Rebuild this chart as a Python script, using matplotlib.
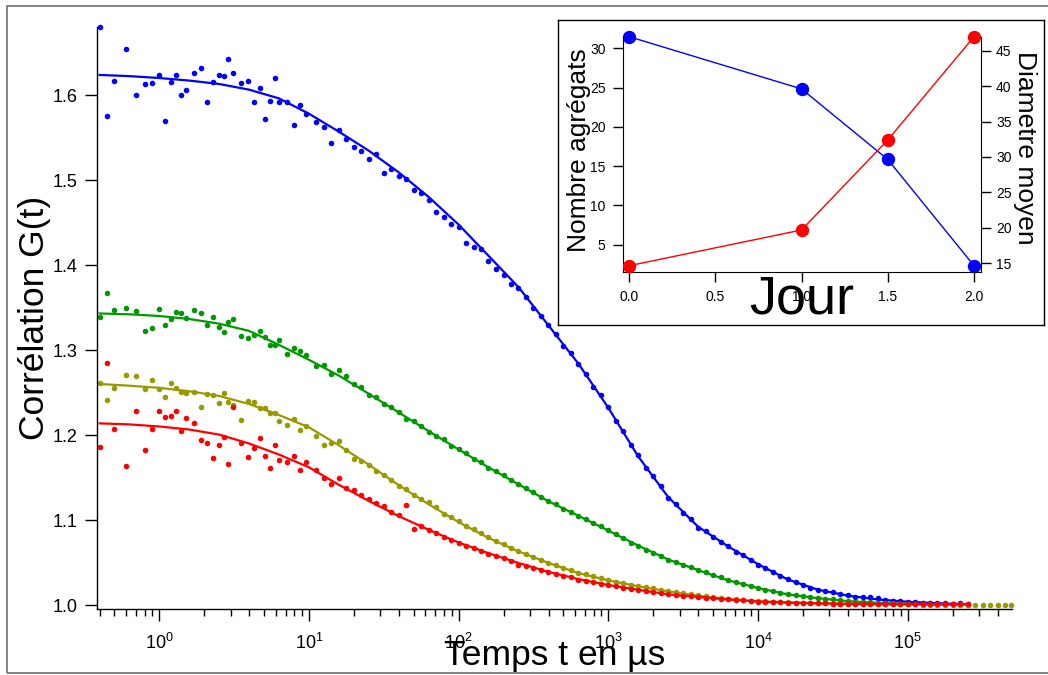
"""Fonctions de correlation G(t) (4 echantillons) avec ajustements, et
encart : nombre d'agregats / diametre moyen en fonction du jour."""

import matplotlib

matplotlib.use("Agg")
import matplotlib.pyplot as plt
from matplotlib.patches import Rectangle
from matplotlib.ticker import (FixedLocator, FormatStrFormatter, LogFormatterSciNotation,
                               MultipleLocator, NullFormatter)

# --- donnees --------------------------------------------------------------
LAG_US = [
    0.4, 0.45, 0.5, 0.6, 0.7, 0.8, 0.9,
    1.0, 1.1, 1.2, 1.3, 1.4, 1.5, 1.7, 1.9, 2.1, 2.3, 2.5, 2.7, 2.9, 3.1,
    3.5, 3.9, 4.3, 4.7, 5.1, 5.5, 5.9, 6.3, 7.1, 7.9, 8.7, 9.5,
    11.2, 12.6, 14.1, 15.8, 17.8, 20.0, 22.4, 25.1, 28.2, 31.6, 35.5, 39.8, 44.7, 50.1,
    56.2, 63.1, 70.8, 79.4, 89.1,
    100, 112, 126, 141, 158, 178, 200, 224, 251, 282, 316, 355, 398, 447, 501, 562,
    631, 708, 794, 891,
    1000, 1120, 1260, 1410, 1580, 1780, 2000, 2240, 2510, 2820, 3160, 3550, 3980, 4470,
    5010, 5620, 6310, 7080, 7940, 8910,
    1.0e4, 1.12e4, 1.26e4, 1.41e4, 1.58e4, 1.78e4, 2.0e4, 2.24e4, 2.51e4, 2.82e4, 3.16e4,
    3.55e4, 3.98e4, 4.47e4, 5.01e4, 5.62e4, 6.31e4, 7.08e4, 7.94e4, 8.91e4,
    1.0e5, 1.12e5, 1.26e5, 1.41e5, 1.58e5, 1.78e5, 2.0e5, 2.24e5, 2.51e5,
]
LAG_US_TAIL = [2.82e5, 3.16e5, 3.55e5, 3.98e5, 4.47e5, 4.9e5]  # seulement la serie olive

G_BLUE = [
    1.680, 1.5757, 1.6165, 1.6537, 1.600, 1.6133, 1.6145,
    1.624, 1.569, 1.615, 1.6235, 1.600, 1.6059, 1.6259, 1.6314, 1.5914, 1.6157, 1.6231,
    1.6227, 1.642, 1.6259,
    1.614, 1.616, 1.592, 1.608, 1.572, 1.5933, 1.6196, 1.5914, 1.592, 1.5647, 1.588, 1.578,
    1.5686, 1.5624, 1.5430, 1.5585, 1.5478, 1.5390, 1.5345, 1.5243, 1.5306, 1.5080, 1.5126,
    1.5047, 1.5008, 1.4882, 1.4843, 1.4765, 1.4627, 1.4568, 1.4482,
    1.4443, 1.4262, 1.4216, 1.4185, 1.4045, 1.3950, 1.3880, 1.3776, 1.3730, 1.3620, 1.3490,
    1.3400, 1.3290, 1.3190, 1.3050, 1.2965, 1.2830, 1.2720, 1.2570, 1.2465,
    1.2330, 1.2170, 1.2045, 1.1880, 1.1760, 1.1615, 1.1520, 1.1395, 1.1260, 1.1190, 1.1080,
    1.1015, 1.0905, 1.0870, 1.0795, 1.0740, 1.0690, 1.0625, 1.0590, 1.0525,
    1.0470, 1.0440, 1.0385, 1.0340, 1.0305, 1.0265, 1.0240, 1.0205, 1.0175, 1.0160, 1.0150,
    1.0125, 1.0112, 1.0095, 1.0100, 1.0092, 1.0078, 1.0060, 1.0050, 1.0042,
    1.0035, 1.0030, 1.0025, 1.0025, 1.0018, 1.0022, 1.0015, 1.0020, 1.0012,
]
G_GREEN = [
    1.339, 1.3667, 1.347, 1.349, 1.3463, 1.3227, 1.326,
    1.3482, 1.330, 1.337, 1.3443, 1.344, 1.338, 1.347, 1.344, 1.330, 1.339, 1.3267,
    1.3216, 1.3333, 1.336,
    1.3165, 1.3137, 1.3176, 1.3224, 1.315, 1.306, 1.306, 1.3118, 1.2953, 1.302, 1.2992, 1.294,
    1.2812, 1.2824, 1.2714, 1.2765, 1.2690, 1.2600, 1.2560, 1.2470, 1.2445, 1.2365, 1.2330,
    1.2265, 1.2190, 1.2160, 1.2105, 1.2040, 1.1985, 1.1950, 1.1875,
    1.1835, 1.1790, 1.1720, 1.1680, 1.1615, 1.1575, 1.1525, 1.1465, 1.1425, 1.1375, 1.1330,
    1.1265, 1.1225, 1.1185, 1.1130, 1.1095, 1.1045, 1.1010, 1.0960, 1.0925,
    1.0880, 1.0835, 1.0790, 1.0735, 1.0695, 1.0650, 1.0610, 1.0578, 1.0530, 1.0505, 1.0470,
    1.0445, 1.0410, 1.0385, 1.0350, 1.0325, 1.0295, 1.0265, 1.0250, 1.0220,
    1.0200, 1.0180, 1.0165, 1.0140, 1.0128, 1.0112, 1.0105, 1.0090, 1.0082, 1.0070, 1.0065,
    1.0055, 1.0048, 1.0040, 1.0035, 1.0030, 1.0025, 1.0022, 1.0020, 1.0016,
    1.0015, 1.0012, 1.0012, 1.0010, 1.0008, 1.0008, 1.0006, 1.0006, 1.0005,
]
G_OLIVE = [
    1.2608, 1.2412, 1.255, 1.2706, 1.2698, 1.2537, 1.2647,
    1.2541, 1.245, 1.2615, 1.255, 1.251, 1.249, 1.251, 1.2326, 1.2482, 1.247, 1.238,
    1.249, 1.2392, 1.2353,
    1.2176, 1.2404, 1.2384, 1.2322, 1.2314, 1.2255, 1.2255, 1.2168, 1.2118, 1.2184, 1.2059, 1.2106,
    1.1988, 1.1880, 1.1902, 1.1933, 1.1824, 1.1714, 1.1700, 1.1650, 1.1580, 1.1530, 1.1475,
    1.1400, 1.1370, 1.1300, 1.1250, 1.1210, 1.1150, 1.1075, 1.1035,
    1.0985, 1.0925, 1.0890, 1.0845, 1.0800, 1.0755, 1.0715, 1.0670, 1.0635, 1.0600, 1.0565,
    1.0530, 1.0500, 1.0470, 1.0440, 1.0410, 1.0380, 1.0360, 1.0340, 1.0315,
    1.0295, 1.0275, 1.0260, 1.0240, 1.0225, 1.0210, 1.0195, 1.0178, 1.0165, 1.0150, 1.0138,
    1.0125, 1.0115, 1.0102, 1.0092, 1.0082, 1.0072, 1.0066, 1.0060, 1.0052,
    1.0047, 1.0042, 1.0038, 1.0034, 1.0030, 1.0028, 1.0025, 1.0022, 1.0020, 1.0018, 1.0016,
    1.0015, 1.0013, 1.0012, 1.0012, 1.0010, 1.0010, 1.0009, 1.0008, 1.0008,
    1.0006, 1.0006, 1.0005, 1.0005, 1.0004, 1.0004, 1.0003, 1.0003, 1.0003,
    1.0002, 1.0002, 1.0002, 1.0002, 1.0001, 1.0001,
]
G_RED = [
    1.1855, 1.285, 1.2067, 1.1635, 1.2282, 1.1824, 1.2067,
    1.2282, 1.2216, 1.2224, 1.2282, 1.205, 1.2204, 1.2145, 1.1941, 1.1902, 1.1726, 1.1882,
    1.1973, 1.1659, 1.2326,
    1.1902, 1.1745, 1.1843, 1.1969, 1.1753, 1.1615, 1.1882, 1.1706, 1.1686, 1.1753, 1.1588, 1.1686,
    1.1590, 1.1500, 1.1420, 1.1500, 1.1375, 1.1350, 1.1300, 1.1250, 1.1200, 1.1165, 1.1100,
    1.1060, 1.1180, 1.0900, 1.0935, 1.0880, 1.0850, 1.0805, 1.0765,
    1.0735, 1.0700, 1.0665, 1.0640, 1.0605, 1.0575, 1.0550, 1.0515, 1.0470, 1.0455, 1.0435,
    1.0410, 1.0385, 1.0365, 1.0345, 1.0325, 1.0300, 1.0285, 1.0268, 1.0250,
    1.0232, 1.0220, 1.0205, 1.0192, 1.0178, 1.0165, 1.0150, 1.0138, 1.0125, 1.0118, 1.0110,
    1.0103, 1.0095, 1.0088, 1.0080, 1.0073, 1.0066, 1.0060, 1.0053, 1.0046,
    1.0040, 1.0037, 1.0034, 1.0031, 1.0028, 1.0026, 1.0024, 1.0022, 1.0020, 1.0018, 1.0017,
    1.0015, 1.0013, 1.0012, 1.0011, 1.0010, 1.0010, 1.0010, 1.0010, 1.0010,
    1.0009, 1.0010, 1.0011, 1.0009, 1.0010, 1.0010, 1.0009, 1.0010, 1.0010,
]

# courbes d'ajustement, lues tous les 0.2 decade
FIT_T = [
    0.4, 0.63, 1.0, 1.58, 2.51, 3.98, 6.31, 10, 15.8, 25.1, 39.8, 63.1, 100, 158, 251,
    398, 631, 1000, 1580, 2510, 3980, 6310, 1.0e4, 1.58e4, 2.51e4, 3.98e4, 6.31e4,
    1.0e5, 1.58e5, 2.51e5,
]
FIT_BLUE = [
    1.6236, 1.6222, 1.6200, 1.6170, 1.6130, 1.6063, 1.5960, 1.5780, 1.5570, 1.5345,
    1.5090, 1.4800, 1.4475, 1.4110, 1.3740, 1.3290, 1.2840, 1.2320, 1.1750, 1.1270,
    1.0920, 1.0690, 1.0480, 1.0300, 1.0180, 1.0110, 1.0065, 1.0038, 1.0020, 1.0010,
]
FIT_GREEN = [
    1.3430, 1.3420, 1.3400, 1.3365, 1.3310, 1.3225, 1.3060, 1.2885, 1.2700, 1.2485,
    1.2265, 1.2045, 1.1830, 1.1620, 1.1420, 1.1220, 1.1050, 1.0875, 1.0700, 1.0535,
    1.0410, 1.0290, 1.0200, 1.0125, 1.0080, 1.0045, 1.0025, 1.0015, 1.0008, 1.0003,
]
FIT_OLIVE = [
    1.2600, 1.2580, 1.2555, 1.2515, 1.2460, 1.2365, 1.2235, 1.2090, 1.1880, 1.1650,
    1.1410, 1.1185, 1.0975, 1.0790, 1.0630, 1.0495, 1.0375, 1.0290, 1.0220, 1.0160,
    1.0110, 1.0070, 1.0045, 1.0030, 1.0020, 1.0014, 1.0010, 1.0007, 1.0004, 1.0002,
]
FIT_RED = [
    1.2137, 1.2125, 1.2100, 1.2065, 1.2005, 1.1900, 1.1770, 1.1620, 1.1415, 1.1225,
    1.1045, 1.0885, 1.0735, 1.0610, 1.0495, 1.0390, 1.0305, 1.0235, 1.0180, 1.0125,
    1.0095, 1.0065, 1.0040, 1.0028, 1.0020, 1.0013, 1.0010, 1.0010, 1.0010, 1.0010,
]

# graduations de l'axe des temps
X_MAJOR = [1, 10, 100, 1e3, 1e4, 1e5]
X_MINOR = [0.4, 0.5, 0.6, 0.7, 0.8, 0.9,
           2, 3, 4, 5, 6, 7, 8, 9,
           20, 30, 40, 50, 60, 70, 80, 90,
           200, 300, 400, 500, 600, 700, 800, 900,
           2e3, 3e3, 4e3, 5e3, 6e3, 7e3, 8e3, 9e3,
           2e4, 3e4, 4e4, 5e4, 6e4, 7e4, 8e4, 9e4,
           2e5, 3e5, 4e5, 5e5]

# encart
JOUR = [0.0, 1.0, 1.5, 2.0]
NOMBRE_AGREGATS = [31.48, 24.83, 15.85, 2.33]
DIAMETRE_MOYEN = [14.66, 19.7, 32.4, 46.96]

BLUE, GREEN, OLIVE, RED = "#0000ff", "#009900", "#999900", "#ff0000"

plt.rcParams["font.family"] = ["Liberation Sans", "DejaVu Sans"]
plt.rcParams["mathtext.fontset"] = "custom"
plt.rcParams["mathtext.rm"] = "Liberation Sans"

W, H = 1048, 675


def px_box(x0, y0, x1, y1):
    """Boite en pixels (origine en haut a gauche) -> fraction de figure."""
    return [x0 / W, 1 - y1 / H, (x1 - x0) / W, (y1 - y0) / H]


fig = plt.figure(figsize=(W / 100, H / 100), dpi=100)

# cadre gris autour de la figure
fig.add_artist(Rectangle((7 / W, 1 - 673 / H), 1.02, 667 / H, transform=fig.transFigure,
                         fill=False, edgecolor="#6e6e6e", lw=1.2))

# --- graphe principal ----------------------------------------------------
ax = fig.add_axes(px_box(97, 27, 1012, 609))
series = [
    (LAG_US, G_BLUE, FIT_BLUE, BLUE),
    (LAG_US, G_GREEN, FIT_GREEN, GREEN),
    (LAG_US + LAG_US_TAIL, G_OLIVE, FIT_OLIVE, OLIVE),
    (LAG_US, G_RED, FIT_RED, RED),
]
for lag, g, fit, color in series:
    ax.plot(lag, g, "o", ms=4.0, mew=0, color=color, clip_on=False)
    ax.plot(FIT_T, fit, "-", lw=1.6, color=color)

ax.set_xscale("log")
ax.set_xlim(0.384, 4.97e5)
ax.set_ylim(0.9953, 1.68)
for side in ("top", "right"):
    ax.spines[side].set_visible(False)
for side in ("left", "bottom"):
    ax.spines[side].set_linewidth(1.0)

ax.xaxis.set_major_locator(FixedLocator(X_MAJOR))
ax.xaxis.set_major_formatter(LogFormatterSciNotation())
ax.xaxis.set_minor_locator(FixedLocator(X_MINOR))
ax.xaxis.set_minor_formatter(NullFormatter())
ax.yaxis.set_major_locator(MultipleLocator(0.1))
ax.yaxis.set_major_formatter(FormatStrFormatter("%.1f"))
ax.tick_params(which="both", direction="out", width=1.0)
ax.tick_params(axis="x", which="major", length=8.5, pad=9, labelsize=13)
ax.tick_params(axis="x", which="minor", length=4.8)
ax.tick_params(axis="y", which="major", length=8.5, pad=5.5, labelsize=13)

ax.set_xlabel("Temps t en µs", fontsize=25.5)
ax.xaxis.set_label_coords(0.5, -0.052)
ax.set_ylabel("Corrélation G(t)", fontsize=25.5)
ax.yaxis.set_label_coords(-0.0506, 0.5)

# --- encart ----------------------------------------------------------------
frame = fig.add_axes(px_box(558, 20, 1044, 325), zorder=2)
frame.set_xticks([])
frame.set_yticks([])
for sp in frame.spines.values():
    sp.set_linewidth(1.0)

ax_in = fig.add_axes(px_box(622.7, 37, 980.7, 272.3), zorder=3)
ax_in.patch.set_alpha(0)
ax_in2 = ax_in.twinx()
ax_in2.set_zorder(4)
ax_in2.patch.set_alpha(0)

ax_in.plot(JOUR, NOMBRE_AGREGATS, "-o", color=BLUE, lw=1.0, ms=8.6, clip_on=False)
ax_in2.plot(JOUR, DIAMETRE_MOYEN, "-o", color=RED, lw=1.0, ms=8.6, clip_on=False)

ax_in.set_xlim(-0.037, 2.039)
ax_in.set_ylim(1.487, 31.44)
ax_in2.set_ylim(13.73, 46.93)
ax_in.spines["top"].set_visible(False)
ax_in.spines["right"].set_visible(False)
for side in ("top", "left", "bottom"):
    ax_in2.spines[side].set_visible(False)

ax_in.xaxis.set_major_locator(MultipleLocator(0.5))
ax_in.xaxis.set_major_formatter(FormatStrFormatter("%.1f"))
ax_in.yaxis.set_major_locator(MultipleLocator(5))
ax_in2.yaxis.set_major_locator(MultipleLocator(5))
ax_in.tick_params(axis="x", direction="out", length=7.5, width=1.0, pad=5, labelsize=10)
ax_in.tick_params(axis="y", direction="out", length=7.5, width=1.0, pad=4.8, labelsize=10)
ax_in2.tick_params(axis="y", direction="out", length=7.5, width=1.0, pad=3.6, labelsize=10)

ax_in.set_xlabel("Jour", fontsize=39)
ax_in.xaxis.set_label_coords(0.5, -0.01)
ax_in.set_ylabel("Nombre agrégats", fontsize=19)
ax_in.yaxis.set_label_coords(-0.0885, 0.52)
ax_in2.set_ylabel("Diametre moyen", fontsize=19, rotation=-90, va="bottom")
ax_in2.yaxis.set_label_coords(1.09, 0.53)

fig.savefig("out.png", dpi=100)
